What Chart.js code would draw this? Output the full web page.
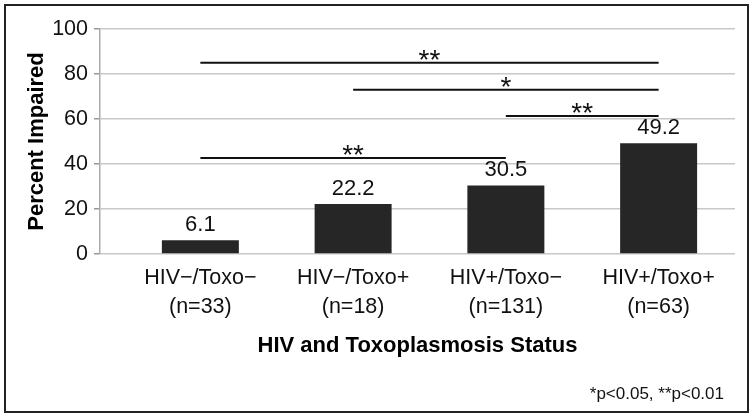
<!DOCTYPE html>
<html>
<head>
<meta charset="utf-8">
<script src="https://cdn.jsdelivr.net/npm/chart.js@4/dist/chart.umd.min.js"></script>
<style>
  html, body { margin: 0; padding: 0; background: #fff; }
  #wrap { width: 754px; height: 417px; position: relative; }
</style>
</head>
<body>
<div id="wrap"><canvas id="myChart"></canvas></div>
<script>
const categories = ["HIV\u2212/Toxo\u2212", "HIV\u2212/Toxo+", "HIV+/Toxo\u2212", "HIV+/Toxo+"];
const groupSizes = ["(n=33)", "(n=18)", "(n=131)", "(n=63)"];
const percentImpaired = [6.1, 22.2, 30.5, 49.2];
const yTicks = [0, 20, 40, 60, 80, 100];

// significance brackets: from group, to group, height (percent), label
const sigFrom = [0, 1, 2, 0];
const sigTo = [3, 3, 3, 2];
const sigLevel = [85, 73, 61.3, 42.7];
const sigMark = ["**", "*", "**", "**"];

const ctx = document.getElementById("myChart").getContext("2d");
const FONT = "'Liberation Sans', Arial, sans-serif";

const framePlugin = {
  id: "frame",
  beforeDraw(chart) {
    const c = chart.ctx;
    c.save();
    c.fillStyle = "#fff";
    c.fillRect(0, 0, chart.width, chart.height);
    c.strokeStyle = "#222";
    c.lineWidth = 2;
    c.strokeRect(5, 5, 743, 407);
    c.restore();
  },
  afterDraw(chart) {
    const c = chart.ctx;
    c.save();
    c.fillStyle = "#111";
    c.font = "17px " + FONT;
    c.textAlign = "right";
    c.textBaseline = "middle";
    c.fillText("*p<0.05, **p<0.01", 724, 394);
    c.restore();
  },
};

const labelPlugin = {
  id: "barLabels",
  afterDatasetsDraw(chart) {
    const c = chart.ctx;
    const meta = chart.getDatasetMeta(0);
    c.save();
    c.fillStyle = "#111";
    c.font = "22px " + FONT;
    c.textAlign = "center";
    c.textBaseline = "middle";
    meta.data.forEach((bar, i) => {
      c.fillText(percentImpaired[i].toFixed(1), bar.x, bar.y - 15);
    });

    const x = chart.scales.x;
    const y = chart.scales.y;
    c.strokeStyle = "#111";
    c.lineWidth = 2;
    c.font = "28px " + FONT;
    c.textBaseline = "alphabetic";
    sigFrom.forEach((from, i) => {
      const x1 = x.getPixelForValue(from);
      const x2 = x.getPixelForValue(sigTo[i]);
      const yy = y.getPixelForValue(sigLevel[i]);
      c.beginPath();
      c.moveTo(x1, yy);
      c.lineTo(x2, yy);
      c.stroke();
      c.fillText(sigMark[i], (x1 + x2) / 2, yy + 6);
    });
    c.restore();
  },
};

new Chart(ctx, {
  type: "bar",
  data: {
    datasets: [
      {
        data: percentImpaired.map((v, i) => ({ x: i, y: v })),
        backgroundColor: "#262626",
        borderWidth: 0,
        barPercentage: 0.504,
        categoryPercentage: 1,
      },
    ],
  },
  options: {
    responsive: true,
    maintainAspectRatio: false,
    animation: false,
    layout: { padding: { left: 0, top: 29, right: 19, bottom: 57.8 } },
    plugins: {
      legend: { display: false },
      tooltip: { enabled: false },
    },
    scales: {
      x: {
        type: "linear",
        min: -0.657,
        max: 3.5,
        offset: false,
        afterBuildTicks: (scale) => {
          scale.ticks = categories.map((c, i) => ({ value: i }));
        },
        afterFit: (scale) => {
          scale.height = 105.2;
        },
        grid: { display: false, drawTicks: false, offset: false },
        border: { display: false },
        ticks: {
          autoSkip: false,
          maxRotation: 0,
          padding: 9.5,
          color: "#111",
          font: { family: FONT, size: 21.5, lineHeight: 1.35 },
          callback: (v) => [categories[v], groupSizes[v]],
        },
        title: {
          display: true,
          text: "HIV and Toxoplasmosis Status",
          color: "#000",
          padding: 0,
          font: { family: FONT, size: 22, weight: "bold" },
        },
      },
      y: {
        min: 0,
        max: 100,
        afterBuildTicks: (scale) => {
          scale.ticks = yTicks.map((v) => ({ value: v }));
        },
        afterFit: (scale) => {
          scale.width = 100;
        },
        grid: {
          color: "#c8c8c8",
          lineWidth: 1.5,
          tickLength: 6,
          tickColor: "#999",
        },
        border: { display: true, color: "#aaa", width: 1.5 },
        ticks: {
          padding: 6,
          color: "#111",
          font: { family: FONT, size: 21.5 },
        },
        title: {
          display: true,
          text: "Percent Impaired",
          color: "#000",
          padding: { top: 24, bottom: 0 },
          font: { family: FONT, size: 22, weight: "bold" },
        },
      },
    },
  },
  plugins: [framePlugin, labelPlugin],
});
</script>
</body>
</html>
